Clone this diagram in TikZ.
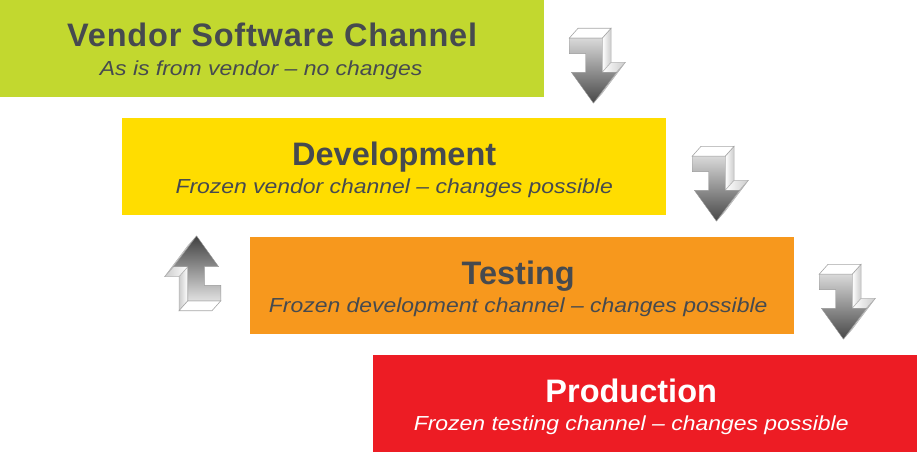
\documentclass[tikz,border=0pt]{standalone}
\usepackage{fontspec}
\setmainfont{Liberation Sans}
\newfontfamily\subfont[FakeStretch=1.13]{Liberation Sans}
\begin{document}
\definecolor{vendorgreen}{HTML}{C2D82F}
\definecolor{devyellow}{HTML}{FFDD00}
\definecolor{testorange}{HTML}{F7981D}
\definecolor{prodred}{HTML}{ED1C24}
\definecolor{labelgray}{HTML}{464A4F}
\begin{tikzpicture}[x=1pt,y=-1pt,
  stage/.style={draw=none,minimum width=544pt,minimum height=97pt,inner sep=0pt,anchor=north west},
  title/.style={anchor=base,inner sep=0pt,text=labelgray,font=\fontsize{32.5}{36}\selectfont\bfseries},
  subtitle/.style={anchor=base,inner sep=0pt,text=labelgray,font=\subfont\fontsize{20.3}{24}\selectfont\itshape},
  arrowfront/.style={top color=black!15,bottom color=black!72},
  arrowtop/.style={fill=white,draw=black!35,line width=0.6pt},
  arrowside/.style={left color=white,right color=black!20,draw=black!30,line width=0.5pt},
  bentarrow/.pic={
    % side faces of the extruded bent arrow
    \path[arrowside] (32,12) -- (40,3) -- (40,34) -- (32,43) -- cycle;
    \path[arrowside] (32,43) -- (40,34) -- (53,34) -- (45,43) -- cycle;
    \path[arrowside] (45,43) -- (53,34) -- (32,62) -- (24,71) -- cycle;
    % top face of the horizontal bar
    \path[arrowtop] (2,12) -- (10,3) -- (40,3) -- (32,12) -- cycle;
    % front face
    \path[arrowfront,draw=black!40,line width=0.4pt]
      (2,12) -- (32,12) -- (32,43) -- (45,43) -- (24,71) -- (4,43)
      -- (17,43) -- (17,26) -- (2,26) -- cycle;
  }]
\useasboundingbox (0,0) rectangle (918,452);

% stage boxes
\node[stage,fill=vendorgreen] (vendor) at (0,0) {};
\node[stage,fill=devyellow]   (dev)    at (122,118) {};
\node[stage,fill=testorange]  (test)   at (250,237) {};
\node[stage,fill=prodred]     (prod)   at (373,355) {};

% stage labels
\node[title,font=\fontsize{32.5}{36}\selectfont\bfseries\addfontfeature{LetterSpace=2.5}]
                (vendorT) at ([yshift=-47pt]vendor.north) {Vendor Software Channel};
\node[subtitle] (vendorS) at ([xshift=-11pt,yshift=-75pt]vendor.north) {As is from vendor – no changes};
\node[title]    (devT) at ([yshift=-47pt]dev.north) {Development};
\node[subtitle] (devS) at ([yshift=-75pt]dev.north) {Frozen vendor channel – changes possible};
\node[title]    (testT) at ([xshift=-4pt,yshift=-47pt]test.north) {Testing};
\node[subtitle] (testS) at ([xshift=-4pt,yshift=-75pt]test.north) {Frozen development channel – changes possible};
\node[title,text=white]    (prodT) at ([xshift=-14pt,yshift=-47pt]prod.north) {Production};
\node[subtitle,text=white] (prodS) at ([xshift=-14pt,yshift=-75pt]prod.north) {Frozen testing channel – changes possible};

% promotion arrows between the stages
\pic[scale=1.1] at (567,25) {bentarrow};
\pic[scale=1.1] at (690,143) {bentarrow};
\pic[scale=1.1] at (817,261) {bentarrow};
% feedback arrow from testing back to development
\pic[scale=1.1,rotate=180,
     arrowfront/.style={top color=black!75,bottom color=black!12},
     arrowside/.style={left color=black!20,right color=white,draw=black!30,line width=0.5pt}]
  at (223,314) {bentarrow};
\end{tikzpicture}
\end{document}
